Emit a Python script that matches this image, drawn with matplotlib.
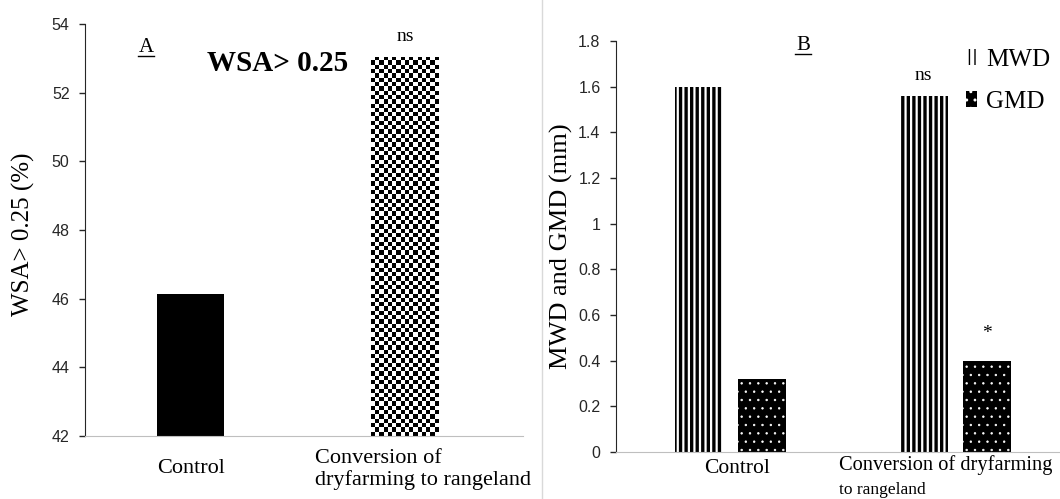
import numpy as np
import matplotlib
matplotlib.use('Agg')
import matplotlib.pyplot as plt
from matplotlib.lines import Line2D

# Data
kategori_a = ['Control', 'Conversion of\ndryfarming to rangeland']
wsa = [46.15, 53.05]
kategori_b = ['Control', 'Conversion of dryfarming', 'to rangeland']
mwd = [1.60, 1.56]
gmd = [0.32, 0.40]
yticks_a = [42, 44, 46, 48, 50, 52, 54]
yticks_b = [0, 0.2, 0.4, 0.6, 0.8, 1.0, 1.2, 1.4, 1.6, 1.8]
ylabels_b = ['0', '0.2', '0.4', '0.6', '0.8', '1', '1.2', '1.4', '1.6', '1.8']

serif = 'Liberation Serif'
sans = 'Liberation Sans'

fig = plt.figure(figsize=(10.6, 4.99), dpi=100)
ax1 = fig.add_axes([0.080, 0.126, 0.413, 0.826])
ax2 = fig.add_axes([0.581, 0.094, 0.419, 0.824])

# garis pemisah antar panel
fig.add_artist(Line2D([0.511, 0.511], [0.0, 1.0], color='#d9d9d9', lw=1))


def gaya_sumbu(ax):
    ax.spines['top'].set_visible(False)
    ax.spines['right'].set_visible(False)
    ax.spines['left'].set_color('#262626')
    ax.spines['bottom'].set_color('#bfbfbf')
    ax.tick_params(axis='y', direction='out', length=4, width=1, colors='#262626',
                   labelsize=11.5, pad=7)
    ax.tick_params(axis='x', length=0)
    ax.set_xticklabels([])
    for t in ax.get_yticklabels():
        t.set_fontfamily(sans)


def huruf_garis(ax, xa, ya, teks, lebar_garis):
    # huruf panel dengan garis bawah
    ax.text(xa, ya, teks, transform=ax.transAxes, ha='center', va='baseline',
            fontfamily=serif, fontsize=15)
    ax.add_line(Line2D([xa - lebar_garis / 2, xa + lebar_garis / 2], [ya - 0.009, ya - 0.009],
                       transform=ax.transAxes, color='black', lw=1, clip_on=False))


def label_kategori(ax, xd, teks, dx, dy, ha, size):
    # label kategori di bawah sumbu x (posisi x dari data)
    ax.annotate(teks, xy=(xd, 0), xycoords=('data', 'axes fraction'),
                xytext=(dx, -dy), textcoords='offset points', ha=ha, va='center',
                multialignment='left', fontfamily=serif, fontsize=size,
                annotation_clip=False)


# ---- Panel A ----
x = np.arange(len(kategori_a))
lebar = 0.313
ax1.bar(x[0], wsa[0] - 42, bottom=42, width=lebar, color='black')
bar_cek = ax1.bar(x[1], wsa[1] - 42, bottom=42, width=lebar, facecolor='none',
                  edgecolor='none')[0]
# isi papan catur, dipotong sesuai batang
kol, bar_n = 16, 88
papan = (np.add.outer(np.arange(bar_n), np.arange(kol)) % 2).astype(float)
img = ax1.imshow(papan, cmap='gray', interpolation='nearest', aspect='auto',
                 extent=[x[1] - lebar / 2, x[1] + lebar / 2, 42, wsa[1]],
                 origin='lower')
img.set_clip_path(bar_cek)
ax1.set_xlim(-0.495, 1.55)
ax1.set_ylim(42, 54)
ax1.set_yticks(yticks_a)
ax1.set_xticks(x)
gaya_sumbu(ax1)
label_kategori(ax1, x[0], kategori_a[0], 0, 23, 'center', 16)
label_kategori(ax1, x[1], kategori_a[1], -65, 24, 'left', 16)
ax1.set_ylabel('WSA> 0.25 (%)', fontfamily=serif, fontsize=18)
ax1.yaxis.set_label_coords(-0.114, 0.49)
ax1.text(x[1], wsa[1] + 0.35, 'ns', ha='center', va='bottom', fontfamily=serif, fontsize=14)
huruf_garis(ax1, 0.14, 0.932, 'A', 0.035)
ax1.text(0.44, 0.903, 'WSA> 0.25', transform=ax1.transAxes, ha='center', va='center',
         fontfamily=serif, fontsize=21, fontweight='bold')

# ---- Panel B ----
xb = np.arange(len(mwd))
lb = 0.213
geser = 0.141
with plt.rc_context({'hatch.linewidth': 2.4}):
    b_mwd = ax2.bar(xb - geser, mwd, width=lb, facecolor='white', edgecolor='black',
                    linewidth=0, hatch='|||', label='MWD')
with plt.rc_context({'hatch.linewidth': 0.5}):
    b_gmd = ax2.bar(xb + geser, gmd, width=lb, facecolor='black', edgecolor='white',
                    linewidth=0, hatch='..', label='GMD')
ax2.set_xlim(-0.509, 1.464)
ax2.set_ylim(0, 1.8)
ax2.set_yticks(yticks_b)
ax2.set_yticklabels(ylabels_b)
ax2.set_xticks(xb)
gaya_sumbu(ax2)
label_kategori(ax2, xb[0], kategori_b[0], 5, 12, 'center', 15.5)
label_kategori(ax2, xb[1], kategori_b[1], -84, 9, 'left', 14.7)
label_kategori(ax2, xb[1], kategori_b[2], -84, 27, 'left', 12.5)
ax2.set_ylabel('MWD and GMD (mm)', fontfamily=serif, fontsize=19)
ax2.yaxis.set_label_coords(-0.097, 0.50)
ax2.text(xb[1] - geser, mwd[1] + 0.05, 'ns', ha='center', va='bottom',
         fontfamily=serif, fontsize=14)
ax2.text(xb[1] + geser, gmd[1] + 0.08, '*', ha='center', va='bottom',
         fontfamily=serif, fontsize=14)
huruf_garis(ax2, 0.421, 0.978, 'B', 0.035)
leg = ax2.legend(loc='upper left', bbox_to_anchor=(0.788, 0.98), frameon=False,
                 prop={'family': serif, 'size': 18}, handlelength=0.45,
                 handleheight=0.6, handletextpad=0.35, labelspacing=0.8,
                 borderpad=0, borderaxespad=0)

fig.savefig('out.png', dpi=100)
